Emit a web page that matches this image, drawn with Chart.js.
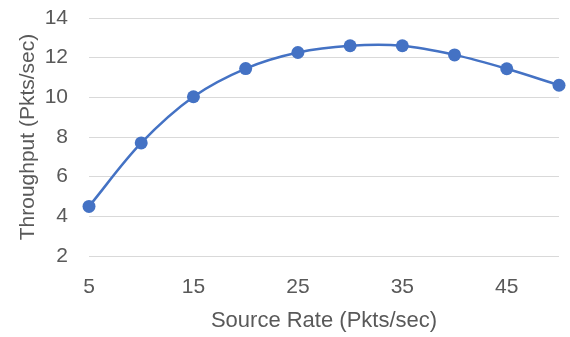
<!DOCTYPE html>
<html><head><meta charset="utf-8">
<script src="https://cdn.jsdelivr.net/npm/chart.js@4/dist/chart.umd.min.js"></script>
<style>html,body{margin:0;padding:0;background:#fff}</style>
</head><body>
<canvas id="c" width="570" height="337" style="display:block;width:570px;height:337px"></canvas>
<script>
const sourceRates = ['5','10','15','20','25','30','35','40','45','50'];
const throughput = [4.5, 7.7, 10.03, 11.45, 12.26, 12.6, 12.6, 12.14, 11.44, 10.61];
const yMin = 2, yMax = 14, yStep = 2;
const xTitle = 'Source Rate (Pkts/sec)';
const yTitle = 'Throughput (Pkts/sec)';

const textColor = '#595959';
const fontFamily = '"Liberation Sans", Arial, sans-serif';

new Chart(document.getElementById('c'), {
  type: 'line',
  data: {
    labels: sourceRates,
    datasets: [{
      data: throughput,
      borderColor: '#4472C4',
      backgroundColor: '#4472C4',
      borderWidth: 2.5,
      pointRadius: 6.5,
      pointHoverRadius: 6.5,
      pointBorderWidth: 0,
      tension: 0.35,
      clip: false,
      fill: false
    }]
  },
  options: {
    responsive: false,
    animation: false,
    layout: { padding: { left: 10, right: 11, top: 18, bottom: 0 } },
    plugins: { legend: { display: false }, tooltip: { enabled: false } },
    scales: {
      x: {
        offset: false,
        grid: { display: false, drawTicks: false },
        border: { display: false },
        ticks: {
          color: textColor,
          font: { family: fontFamily, size: 21 },
          padding: 19,
          autoSkip: false,
          maxRotation: 0,
          callback: function(v, i) { return i % 2 === 0 ? this.getLabelForValue(v) : ''; }
        },
        title: {
          display: true, text: xTitle, color: textColor,
          font: { family: fontFamily, size: 22 },
          padding: { top: 0, bottom: 3 }
        },
        afterFit: s => { s.height = 337 - 256; s.paddingLeft = 0; s.paddingRight = 0; }
      },
      y: {
        min: yMin, max: yMax,
        grid: { color: '#D9D9D9', lineWidth: 1, drawTicks: false },
        border: { display: false },
        ticks: {
          stepSize: yStep,
          color: textColor,
          font: { family: fontFamily, size: 21 },
          padding: 21
        },
        title: {
          display: true, text: yTitle, color: textColor,
          font: { family: fontFamily, size: 21 },
          padding: { top: 6, bottom: 0 }
        },
        afterFit: s => { s.width = 89 - 10; s.paddingTop = 0; s.paddingBottom = 0; }
      }
    }
  }
});
</script>
</body></html>
